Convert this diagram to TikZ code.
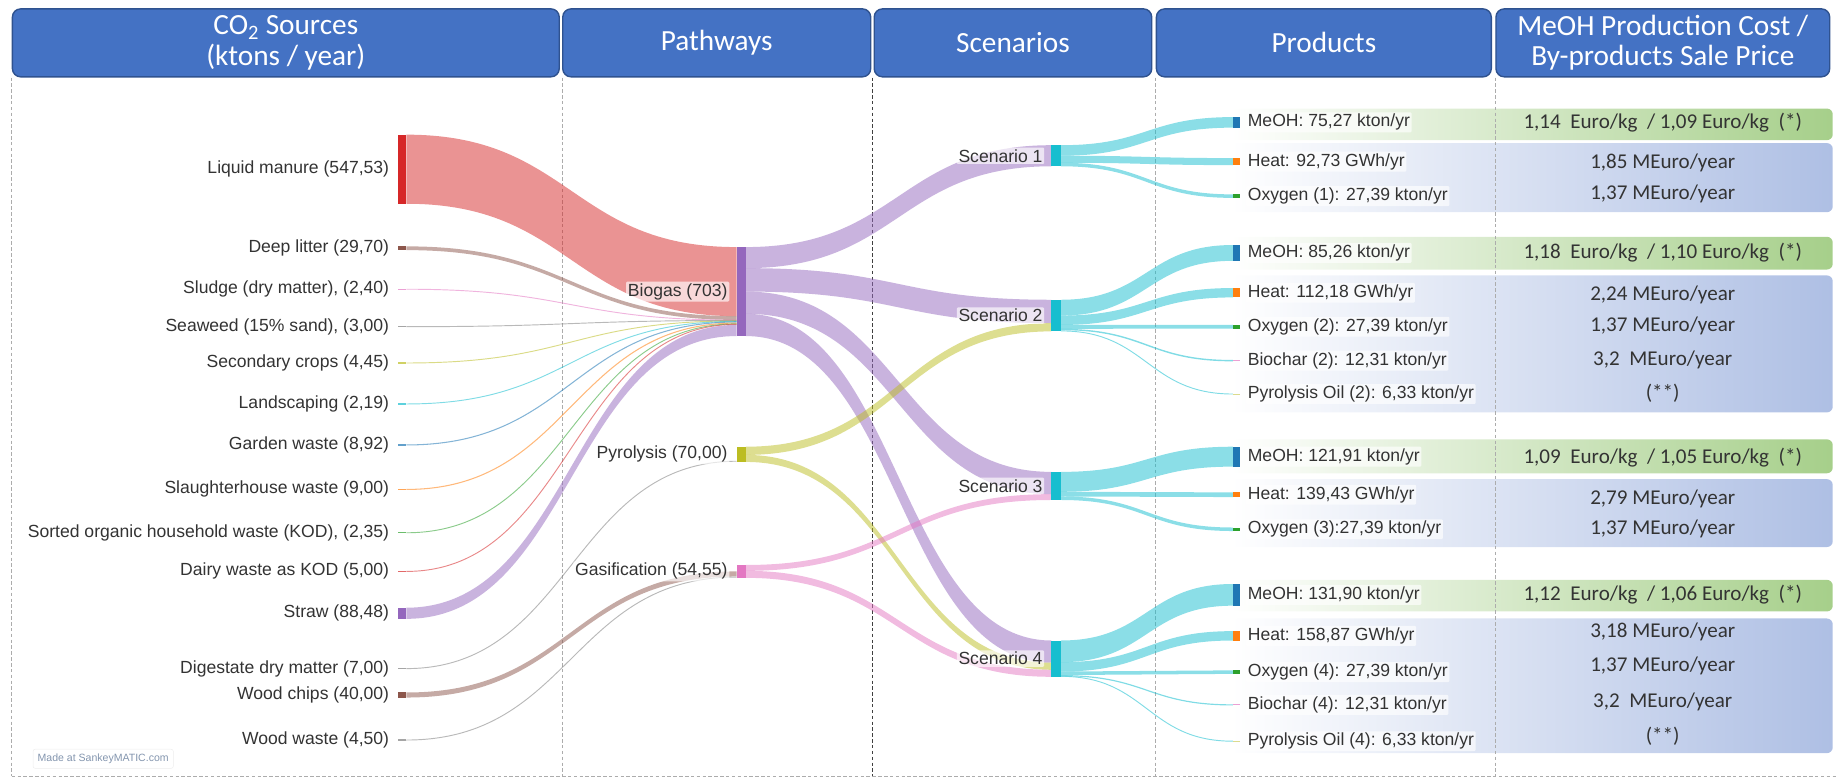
\documentclass[tikz,border=0pt]{standalone}
\usepackage{fontspec}
\setmainfont{Liberation Sans}
\newfontfamily\carlito{Carlito}
\usetikzlibrary{calc}
\pgfdeclarelayer{back}
\pgfdeclarelayer{flows}
\pgfsetlayers{back,flows,main}
\definecolor{cBlue}{HTML}{1F77B4}
\definecolor{cOrange}{HTML}{FF7F0E}
\definecolor{cGreen}{HTML}{2CA02C}
\definecolor{cRed}{HTML}{D62728}
\definecolor{cPurple}{HTML}{9467BD}
\definecolor{cBrown}{HTML}{8C564B}
\definecolor{cPink}{HTML}{E377C2}
\definecolor{cGray}{HTML}{7F7F7F}
\definecolor{cOlive}{HTML}{BCBD22}
\definecolor{cCyan}{HTML}{17BECF}
\definecolor{cOil}{HTML}{DBDB8D}
\definecolor{hdrBlue}{HTML}{4472C4}
\definecolor{hdrEdge}{HTML}{2F528F}
\definecolor{boxGreen}{HTML}{A6CF8A}
\definecolor{boxBlue}{HTML}{AEBFE4}
\definecolor{madeC}{HTML}{8395AE}
\definecolor{txt}{HTML}{333333}
% wide band: src, offset(top) in src, tgt, offset in tgt, width, colour
\newcommand\sband[6]{%
  \coordinate (bA) at ($(#1.north east)+(0,-#2pt)$);
  \coordinate (bB) at ($(#3.north west)+(0,-#4pt)$);
  \coordinate (bM) at ($(bA)!0.5!(bB)$);
  \fill[#6, fill opacity=.5] (bA) .. controls (bM|-bA) and (bM|-bB) .. (bB)
    -- ($(bB)+(0,-#5pt)$) .. controls ($(bM|-bB)+(0,-#5pt)$) and ($(bM|-bA)+(0,-#5pt)$) .. ($(bA)+(0,-#5pt)$) -- cycle;
}
% thin flow: src, centre offset in src, tgt, centre offset in tgt, line width, colour
\newcommand\tflow[6]{%
  \coordinate (bA) at ($(#1.north east)+(0,-#2pt)$);
  \coordinate (bB) at ($(#3.north west)+(0,-#4pt)$);
  \coordinate (bM) at ($(bA)!0.5!(bB)$);
  \draw[#6, line width=#5pt, draw opacity=.55] (bA) .. controls (bM|-bA) and (bM|-bB) .. (bB);
}
\begin{document}
\begin{tikzpicture}[x=1pt,y=-1pt,
  bar/.style={rectangle, anchor=north west, inner sep=0pt, outer sep=0pt, draw=none},
  lab/.style={font=\fontsize{15}{17}\selectfont, text=txt, fill=white, fill opacity=.65, text opacity=1, inner sep=1.5pt, rounded corners=1pt},
  hdr/.style={rectangle, rounded corners=7pt, anchor=north west, fill=hdrBlue, draw=hdrEdge, line width=1.2pt, text=white, font=\carlito\fontsize{25}{26}\selectfont, align=center, inner sep=0pt, minimum height=58pt},
  gbox/.style={rectangle, rounded corners=5pt, anchor=north west, left color=white, right color=boxGreen, inner sep=0pt, minimum width=514pt},
  bbox/.style={rectangle, rounded corners=5pt, anchor=north west, left color=white, right color=boxBlue, inner sep=0pt, minimum width=514pt},
  rtxt/.style={font=\carlito\fontsize{18}{20}\selectfont, text=txt, inner sep=0pt},
  sep/.style={gray!65, line width=.8pt, dash pattern=on 3pt off 2pt}
]
\useasboundingbox (0,0) rectangle (1568,665);
\coordinate (bot) at (0,663);
\coordinate (rgt) at (1568,663);

% headers
\node[hdr, minimum width=467pt] (H1) at (10,7) {CO\textsubscript{2} Sources\\(ktons / year)};
\node[hdr, minimum width=263pt] (H2) at (480,7) {Pathways};
\node[hdr, minimum width=237pt] (H3) at (746,7) {Scenarios};
\node[hdr, minimum width=286pt] (H4) at (987,7) {Products};
\node[hdr, minimum width=285pt] (H5) at (1277,7) {MeOH Production Cost /\\By-products Sale Price};

% background boxes and separators
\begin{pgfonlayer}{back}
\node[gbox, minimum height=27pt] (G1) at (1051,92.5) {};
\node[bbox, minimum height=59pt] (B1) at (1051,122) {};
\node[gbox, minimum height=28pt] (G2) at (1051,202) {};
\node[bbox, minimum height=117pt] (B2) at (1051,235) {};
\node[gbox, minimum height=29pt] (G3) at (1051,375) {};
\node[bbox, minimum height=58pt] (B3) at (1051,409) {};
\node[gbox, minimum height=27pt] (G4) at (1051,495) {};
\node[bbox, minimum height=115pt] (B4) at (1051,528) {};
\draw[sep] (H1.south west) -- (H1.south west |- bot);
\draw[sep] (H2.south west) -- (H2.south west |- bot);
\draw[sep, black!75] ([xshift=-1pt]H3.south west) -- ([xshift=-1pt]H3.south west |- bot);
\draw[sep] (H4.south west) -- (H4.south west |- bot);
\draw[sep] (H5.south west) -- (H5.south west |- bot);
\draw[sep] (H1.south west |- bot) -- (rgt);
\end{pgfonlayer}

% source nodes
\node[bar, fill=cRed, minimum width=7pt, minimum height=59pt] (lm) at (340,115) {};
\node[bar, fill=cBrown, minimum width=7pt, minimum height=3.2pt] (dl) at (340,210.4) {};
\node[bar, fill=cPink!70, minimum width=7pt, minimum height=1.2pt] (sl) at (340,246.4) {};
\node[bar, fill=cGray!70, minimum width=7pt, minimum height=1.2pt] (sw) at (340,278.4) {};
\node[bar, fill=cOlive!70, minimum width=7pt, minimum height=1.2pt] (sc) at (340,309.4) {};
\node[bar, fill=cCyan!70, minimum width=7pt, minimum height=1.2pt] (ls) at (340,344.4) {};
\node[bar, fill=cBlue!70, minimum width=7pt, minimum height=1.2pt] (gw) at (340,379.4) {};
\node[bar, fill=cOrange!70, minimum width=7pt, minimum height=1.2pt] (sh) at (340,417.4) {};
\node[bar, fill=cGreen!70, minimum width=7pt, minimum height=1.2pt] (kod) at (340,454.4) {};
\node[bar, fill=cRed!70, minimum width=7pt, minimum height=1.2pt] (dw) at (340,487.4) {};
\node[bar, fill=cPurple, minimum width=7pt, minimum height=9.5pt] (st) at (340,519) {};
\node[bar, fill=cGray!70, minimum width=7pt, minimum height=1.2pt] (dig) at (340,570.4) {};
\node[bar, fill=cBrown, minimum width=7pt, minimum height=4.3pt] (wc) at (340,591.4) {};
\node[bar, fill=cGray!70, minimum width=7pt, minimum height=1.2pt] (ww) at (340,631.4) {};

% pathway nodes
\node[bar, fill=cPurple, minimum width=8pt, minimum height=76pt] (bio) at (629,211) {};
\node[bar, fill=cOlive, minimum width=8pt, minimum height=13pt] (pyr) at (629,381.5) {};
\node[bar, fill=cPink, minimum width=8pt, minimum height=11pt] (gas) at (629,482.5) {};

% scenario nodes
\node[bar, fill=cCyan, minimum width=8pt, minimum height=18pt] (s1) at (898,124) {};
\node[bar, fill=cCyan, minimum width=8pt, minimum height=27pt] (s2) at (898,256) {};
\node[bar, fill=cCyan, minimum width=8pt, minimum height=24pt] (s3) at (898,403) {};
\node[bar, fill=cCyan, minimum width=8pt, minimum height=31pt] (s4) at (898,547) {};

% product nodes
\node[bar, fill=cBlue, minimum width=6pt, minimum height=9pt] (m1) at (1053,100) {};
\node[bar, fill=cOrange, minimum width=6pt, minimum height=6pt] (h1) at (1053,135) {};
\node[bar, fill=cGreen, minimum width=6pt, minimum height=3pt] (o1) at (1053,166) {};
\node[bar, fill=cBlue, minimum width=6pt, minimum height=13.5pt] (m2) at (1053,209.25) {};
\node[bar, fill=cOrange, minimum width=6pt, minimum height=8pt] (h2) at (1053,246) {};
\node[bar, fill=cGreen, minimum width=6pt, minimum height=3.3pt] (o2) at (1053,277.35) {};
\node[bar, fill=cPink!70, minimum width=6pt, minimum height=1.2pt] (bc2) at (1053,307.4) {};
\node[bar, fill=cOil, minimum width=6pt, minimum height=0.8pt] (oil2) at (1053,336.1) {};
\node[bar, fill=cBlue, minimum width=6pt, minimum height=17pt] (m3) at (1053,381.5) {};
\node[bar, fill=cOrange, minimum width=6pt, minimum height=4pt] (h3) at (1053,420.5) {};
\node[bar, fill=cGreen, minimum width=6pt, minimum height=3pt] (o3) at (1053,450.5) {};
\node[bar, fill=cBlue, minimum width=6pt, minimum height=18.5pt] (m4) at (1053,498.75) {};
\node[bar, fill=cOrange, minimum width=6pt, minimum height=8pt] (h4) at (1053,539) {};
\node[bar, fill=cGreen, minimum width=6pt, minimum height=3pt] (o4) at (1053,572.5) {};
\node[bar, fill=cPink!70, minimum width=6pt, minimum height=1pt] (bc4) at (1053,601.5) {};
\node[bar, fill=cOil, minimum width=6pt, minimum height=0.8pt] (oil4) at (1053,632.6) {};

% flows
\begin{pgfonlayer}{flows}
\sband{lm}{0}{bio}{0}{59}{cRed}
\sband{dl}{0}{bio}{59}{3.2}{cBrown}
\tflow{sl}{0.6}{bio}{62.4}{0.8}{cPink}
\tflow{sw}{0.6}{bio}{62.7}{0.8}{cGray}
\tflow{sc}{0.6}{bio}{63.1}{0.8}{cOlive}
\tflow{ls}{0.6}{bio}{63.5}{0.8}{cCyan}
\tflow{gw}{0.6}{bio}{64.0}{0.9}{cBlue}
\tflow{sh}{0.6}{bio}{64.9}{0.9}{cOrange}
\tflow{kod}{0.6}{bio}{65.6}{0.8}{cGreen}
\tflow{dw}{0.6}{bio}{66.0}{0.8}{cRed}
\sband{st}{0}{bio}{66.5}{9.5}{cPurple}
\tflow{dig}{0.6}{pyr}{12.4}{0.8}{cGray}
\sband{wc}{0}{gas}{5.5}{4.3}{cBrown}
\tflow{ww}{0.6}{gas}{10.3}{0.8}{cGray}
% pathways to scenarios
\sband{bio}{0}{s1}{0}{18}{cPurple}
\sband{bio}{18}{s2}{0}{20}{cPurple}
\sband{bio}{38}{s3}{0}{19}{cPurple}
\sband{bio}{57}{s4}{0}{19}{cPurple}
\sband{pyr}{0}{s2}{20}{7}{cOlive}
\sband{pyr}{7}{s4}{19}{6}{cOlive}
\sband{gas}{0}{s3}{19}{5}{cPink}
\sband{gas}{5}{s4}{25}{6}{cPink}
% scenarios to products
\sband{s1}{0}{m1}{0}{9}{cCyan}
\sband{s1}{9}{h1}{0}{6}{cCyan}
\sband{s1}{15}{o1}{0}{3}{cCyan}
\sband{s2}{0}{m2}{0}{13.5}{cCyan}
\sband{s2}{13.5}{h2}{0}{8}{cCyan}
\sband{s2}{21.5}{o2}{0}{3.3}{cCyan}
\tflow{s2}{25.4}{bc2}{0.6}{1.2}{cCyan}
\tflow{s2}{26.6}{oil2}{0.4}{0.8}{cCyan}
\sband{s3}{0}{m3}{0}{17}{cCyan}
\sband{s3}{17}{h3}{0}{4}{cCyan}
\sband{s3}{21}{o3}{0}{3}{cCyan}
\sband{s4}{0}{m4}{0}{18.5}{cCyan}
\sband{s4}{18.5}{h4}{0}{8}{cCyan}
\sband{s4}{26.5}{o4}{0}{3}{cCyan}
\tflow{s4}{30}{bc4}{0.5}{1}{cCyan}
\tflow{s4}{30.6}{oil4}{0.4}{0.8}{cCyan}
\end{pgfonlayer}

% source labels
\node[lab, anchor=east] (lmL) at ([xshift=-6pt]lm.west) {Liquid manure (547,53)};
\node[lab, anchor=east] (dlL) at ([xshift=-6pt]dl.west) {Deep litter (29,70)};
\node[lab, anchor=east] (slL) at ([xshift=-6pt]sl.west) {Sludge (dry matter), (2,40)};
\node[lab, anchor=east] (swL) at ([xshift=-6pt]sw.west) {Seaweed (15\% sand), (3,00)};
\node[lab, anchor=east] (scL) at ([xshift=-6pt]sc.west) {Secondary crops (4,45)};
\node[lab, anchor=east] (lsL) at ([xshift=-6pt]ls.west) {Landscaping (2,19)};
\node[lab, anchor=east] (gwL) at ([xshift=-6pt]gw.west) {Garden waste (8,92)};
\node[lab, anchor=east] (shL) at ([xshift=-6pt]sh.west) {Slaughterhouse waste (9,00)};
\node[lab, anchor=east] (kodL) at ([xshift=-6pt]kod.west) {Sorted organic household waste (KOD), (2,35)};
\node[lab, anchor=east] (dwL) at ([xshift=-6pt]dw.west) {Dairy waste as KOD (5,00)};
\node[lab, anchor=east] (stL) at ([xshift=-6pt]st.west) {Straw (88,48)};
\node[lab, anchor=east] (digL) at ([xshift=-6pt]dig.west) {Digestate dry matter (7,00)};
\node[lab, anchor=east] (wcL) at ([xshift=-6pt]wc.west) {Wood chips (40,00)};
\node[lab, anchor=east] (wwL) at ([xshift=-6pt]ww.west) {Wood waste (4,50)};

% pathway labels
\node[lab, anchor=east] (bioL) at ([xshift=-6pt]bio.west) {Biogas (703)};
\node[lab, anchor=east] (pyrL) at ([xshift=-6pt]pyr.west) {Pyrolysis (70,00)};
\node[lab, anchor=east] (gasL) at ([xshift=-6pt]gas.west) {Gasification (54,55)};

% scenario labels
\node[lab, anchor=east] (s1L) at ([xshift=-6pt]s1.west) {Scenario 1};
\node[lab, anchor=east] (s2L) at ([xshift=-6pt]s2.west) {Scenario 2};
\node[lab, anchor=east] (s3L) at ([xshift=-6pt]s3.west) {Scenario 3};
\node[lab, anchor=east] (s4L) at ([xshift=-6pt]s4.west) {Scenario 4};

% product labels
\node[lab, anchor=west] (m1L) at ([xshift=5pt]m1.east) {MeOH: 75,27 kton/yr};
\node[lab, anchor=west] (h1L) at ([xshift=5pt]h1.east) {Heat: 92,73 GWh/yr};
\node[lab, anchor=west] (o1L) at ([xshift=5pt]o1.east) {Oxygen (1): 27,39 kton/yr};
\node[lab, anchor=west] (m2L) at ([xshift=5pt]m2.east) {MeOH: 85,26 kton/yr};
\node[lab, anchor=west] (h2L) at ([xshift=5pt]h2.east) {Heat: 112,18 GWh/yr};
\node[lab, anchor=west] (o2L) at ([xshift=5pt]o2.east) {Oxygen (2): 27,39 kton/yr};
\node[lab, anchor=west] (bc2L) at ([xshift=5pt]bc2.east) {Biochar (2): 12,31 kton/yr};
\node[lab, anchor=west] (oil2L) at ([xshift=5pt]oil2.east) {Pyrolysis Oil (2): 6,33 kton/yr};
\node[lab, anchor=west] (m3L) at ([xshift=5pt]m3.east) {MeOH: 121,91 kton/yr};
\node[lab, anchor=west] (h3L) at ([xshift=5pt]h3.east) {Heat: 139,43 GWh/yr};
\node[lab, anchor=west] (o3L) at ([xshift=5pt]o3.east) {Oxygen (3):27,39 kton/yr};
\node[lab, anchor=west] (m4L) at ([xshift=5pt]m4.east) {MeOH: 131,90 kton/yr};
\node[lab, anchor=west] (h4L) at ([xshift=5pt]h4.east) {Heat: 158,87 GWh/yr};
\node[lab, anchor=west] (o4L) at ([xshift=5pt]o4.east) {Oxygen (4): 27,39 kton/yr};
\node[lab, anchor=west] (bc4L) at ([xshift=5pt]bc4.east) {Biochar (4): 12,31 kton/yr};
\node[lab, anchor=west] (oil4L) at ([xshift=5pt]oil4.east) {Pyrolysis Oil (4): 6,33 kton/yr};

% cost / price texts
\node[rtxt] (g1t) at (1420,105) {1,14\ \ Euro/kg\ \ /\ 1,09 Euro/kg\ \ (*)};
\node[rtxt] (b1a) at (1420,139) {1,85 MEuro/year};
\node[rtxt] (b1b) at (1420,166) {1,37 MEuro/year};
\node[rtxt] (g2t) at (1420,216) {1,18\ \ Euro/kg\ \ /\ 1,10 Euro/kg\ \ (*)};
\node[rtxt] (b2a) at (1420,252) {2,24 MEuro/year};
\node[rtxt] (b2b) at (1420,278) {1,37 MEuro/year};
\node[rtxt] (b2c) at (1420,307) {3,2\ \ MEuro/year};
\node[rtxt] (b2d) at (1420,336) {(**)};
\node[rtxt] (g3t) at (1420,391) {1,09\ \ Euro/kg\ \ /\ 1,05 Euro/kg\ \ (*)};
\node[rtxt] (b3a) at (1420,426) {2,79 MEuro/year};
\node[rtxt] (b3b) at (1420,452) {1,37 MEuro/year};
\node[rtxt] (g4t) at (1420,508) {1,12\ \ Euro/kg\ \ /\ 1,06 Euro/kg\ \ (*)};
\node[rtxt] (b4a) at (1420,540) {3,18 MEuro/year};
\node[rtxt] (b4b) at (1420,569) {1,37 MEuro/year};
\node[rtxt] (b4c) at (1420,599) {3,2\ \ MEuro/year};
\node[rtxt] (b4d) at (1420,629) {(**)};

\node[font=\fontsize{9}{10}\selectfont, text=madeC, anchor=west, draw=gray!15, rounded corners=2pt, inner sep=4pt] (made) at (28,648) {Made at SankeyMATIC.com};
\end{tikzpicture}
\end{document}
